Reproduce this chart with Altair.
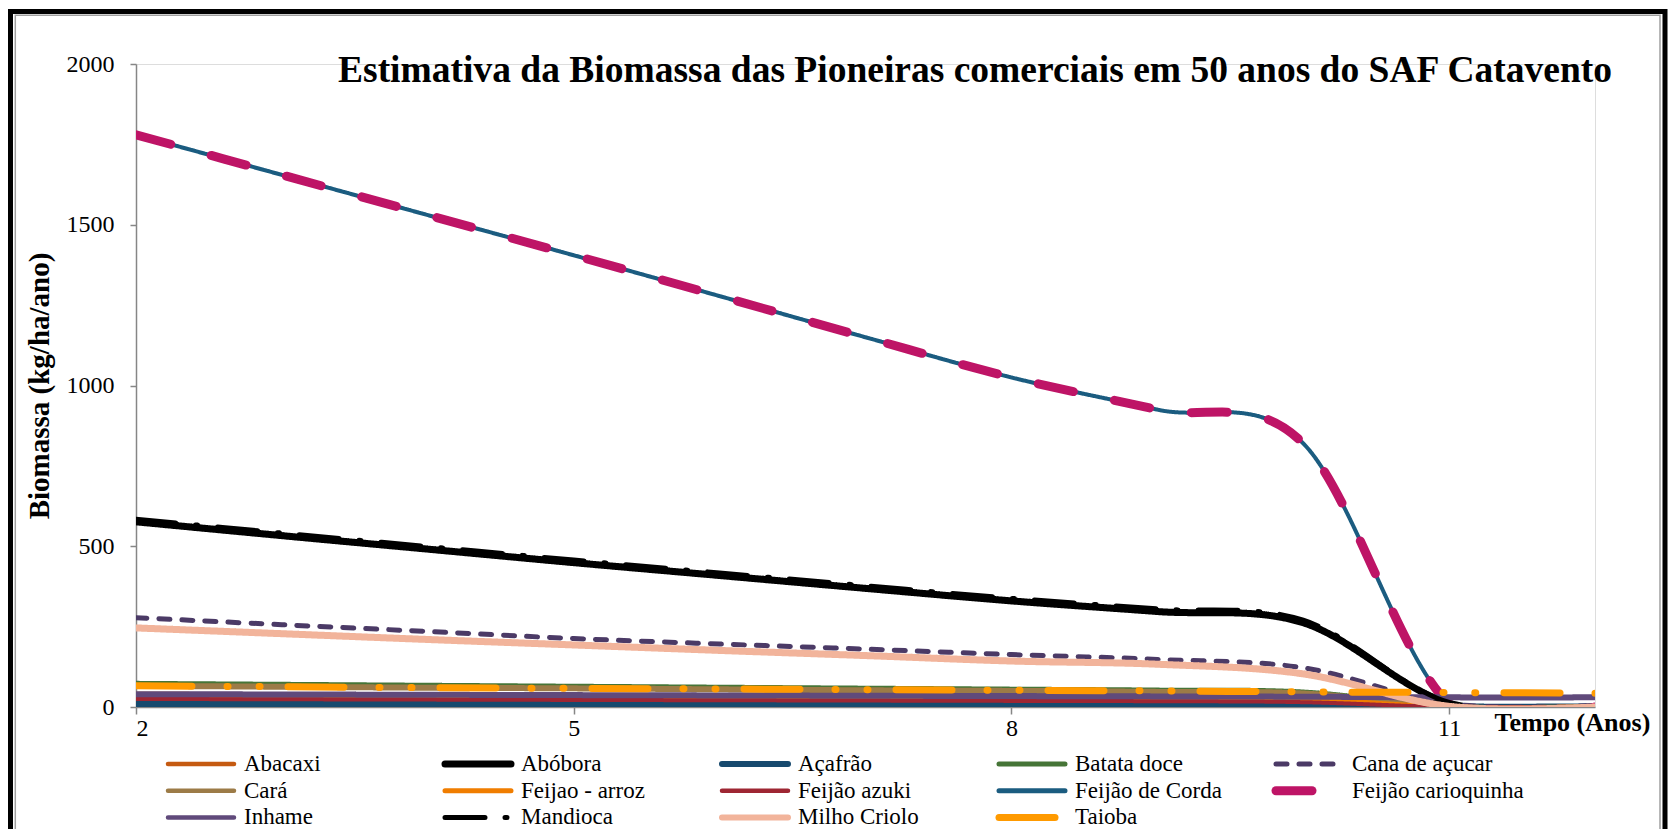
import altair as alt
import pandas as pd

years = [2, 3, 4, 5, 6, 7, 8, 9, 10, 11, 12]

series = ["Abacaxi", "Abóbora", "Açafrão", "Batata doce", "Cana de açucar",
          "Cará", "Feijao - arroz", "Feijão azuki", "Feijão de Corda",
          "Feijão carioquinha", "Inhame", "Mandioca", "Milho Criolo", "Taioba"]

abacaxi = [30, 28, 27, 25, 24, 22, 21, 19, 15, 0, 0]
abobora = [576, 533, 491, 449, 409, 369, 330, 297, 262, 12, 0]
acafrao = [10, 10, 10, 9, 9, 9, 8, 8, 6, 0, 0]
batata_doce = [72, 69, 66, 63, 60, 57, 54, 51, 45, 0, 0]
cana = [278, 256, 235, 213, 196, 180, 163, 148, 122, 10, 5]
cara = [66, 63, 60, 58, 55, 52, 50, 47, 42, 0, 0]
feijao_arroz = [40, 38, 36, 34, 32, 30, 28, 27, 24, 0, 0]
feijao_azuki = [25, 24, 23, 22, 21, 20, 19, 18, 15, 0, 0]
feijao_corda = [1780, 1655, 1530, 1405, 1278, 1150, 1025, 925, 820, 10, 0]
feijao_carioquinha = [1780, 1655, 1530, 1405, 1278, 1150, 1025, 925, 820, 10, 0]
inhame = [40, 39, 38, 37, 36, 35, 34, 33, 32, 30, 30]
mandioca = [584, 541, 499, 457, 417, 377, 338, 305, 270, 14, 0]
milho = [246, 228, 210, 193, 176, 160, 143, 133, 103, 2, 0]
taioba = [66, 63, 60, 58, 56, 54, 52, 50, 47, 45, 43]

all_values = [abacaxi, abobora, acafrao, batata_doce, cana, cara, feijao_arroz,
              feijao_azuki, feijao_corda, feijao_carioquinha, inhame, mandioca,
              milho, taioba]

colors = ["#C55A11", "#000000", "#174A6E", "#467537", "#4B3A66",
          "#9C7B47", "#F07D00", "#9E2633", "#1B5C80",
          "#BE1466", "#604A7B", "#000000", "#F2B49B", "#FF9A00"]
dashes = [[1, 0], [1, 0], [1, 0], [1, 0], [11, 12],
          [1, 0], [1, 0], [1, 0], [1, 0],
          [36, 42], [1, 0], [40, 20, 2, 20], [1, 0], [56, 35, 1, 31, 1, 28]]
widths = [5, 7, 7, 6, 5, 6, 5, 4, 4, 9, 6, 5, 7, 7]
legend_widths = [4.5, 7, 6, 5, 5, 4.5, 5, 4.5, 5, 9, 4.5, 5, 6, 7]

rows = []
for name, vals, w in zip(series, all_values, widths):
    for yr, v in zip(years, vals):
        rows.append({"serie": name, "ano": yr, "biomassa": v, "largura": w})
df = pd.DataFrame(rows)

leg_df = pd.DataFrame({"serie": series, "idx": list(range(len(series))),
                       "largura": legend_widths})

FONT = "Liberation Serif"
TITLE = "Estimativa da Biomassa das Pioneiras comerciais em 50 anos do SAF Catavento"

color_scale = alt.Scale(domain=series, range=colors)
dash_scale = alt.Scale(domain=series, range=dashes)

lines = alt.Chart(df).mark_line(interpolate="cardinal", strokeCap="round",
                                strokeJoin="round", clip=True).encode(
    x=alt.X("ano:Q", scale=alt.Scale(domain=[2, 12], nice=False, zero=False),
            axis=alt.Axis(values=[2, 5, 8, 11], title="Tempo (Anos)", grid=False,
                          format="d",
                          labelFont=FONT, labelFontSize=24, labelColor="black",
                          labelPadding=2, tickSize=7, tickColor="#868686",
                          domainColor="#868686", domainWidth=1.5, tickWidth=1.5,
                          titleFont=FONT, titleFontSize=26, titleFontWeight="bold",
                          titleColor="black", titleAlign="left", titleX=1358,
                          titleY=15, titleBaseline="middle", titleAnchor="start")),
    y=alt.Y("biomassa:Q", scale=alt.Scale(domain=[0, 2000], nice=False),
            axis=alt.Axis(values=[0, 500, 1000, 1500, 2000], format="d",
                          title="Biomassa (kg/ha/ano)", grid=False,
                          labelFont=FONT, labelFontSize=24, labelColor="black",
                          labelPadding=16, tickSize=6, tickColor="#868686",
                          domainColor="#868686", domainWidth=1.5, tickWidth=1.5,
                          titleFont=FONT, titleFontSize=29, titleFontWeight="bold",
                          titleColor="black", titlePadding=12)),
    color=alt.Color("serie:N", scale=color_scale, sort=series, legend=None),
    strokeDash=alt.StrokeDash("serie:N", scale=dash_scale, sort=series, legend=None),
    strokeWidth=alt.StrokeWidth("largura:Q", scale=None, legend=None),
)

# legend drawn as a grid of entries (5 columns x 3 rows) below the plot
legend_base = alt.Chart(leg_df).transform_calculate(
    col="datum.idx % 5",
    row="floor(datum.idx / 5)",
).transform_calculate(
    lx="32 + datum.col * 277",
    lx2="98 + datum.col * 277",
    tx="108 + datum.col * 277",
    ly="700 + datum.row * 26.7",
)
legend_lines = legend_base.mark_rule(strokeCap="round").encode(
    x=alt.X("lx:Q", scale=None), x2="lx2:Q",
    y=alt.Y("ly:Q", scale=None),
    color=alt.Color("serie:N", scale=color_scale, sort=series, legend=None),
    strokeDash=alt.StrokeDash("serie:N", scale=dash_scale, sort=series, legend=None),
    strokeWidth=alt.StrokeWidth("largura:Q", scale=None, legend=None),
)
legend_text = legend_base.mark_text(font=FONT, fontSize=23, color="black",
                                    align="left", baseline="middle").encode(
    x=alt.X("tx:Q", scale=None), y=alt.Y("ly:Q", scale=None), text="serie:N")

frame_df = pd.DataFrame({"k": [0]})
outer = alt.Chart(frame_df).mark_rect(fillOpacity=0, stroke="black", strokeWidth=5).encode(
    x=alt.value(-125.5), x2=alt.value(1529), y=alt.value(-52.5), y2=alt.value(820))
inner = alt.Chart(frame_df).mark_rect(fillOpacity=0, stroke="#A0A0A0", strokeWidth=1.5).encode(
    x=alt.value(-120.7), x2=alt.value(1524), y=alt.value(-48.7), y2=alt.value(820))
title = alt.Chart(frame_df).mark_text(font=FONT, fontSize=37.5, fontWeight="bold",
                                      color="black", align="center",
                                      baseline="middle").encode(
    x=alt.value(839), y=alt.value(7), text=alt.value(TITLE))

chart = alt.layer(lines, legend_lines, legend_text, outer, inner, title).properties(
    width=1459, height=643,
    padding={"left": 128, "top": 56, "right": 74, "bottom": 122},
    autosize=alt.AutoSizeParams(type="none"),
).configure_view(stroke=None).configure(background="white")

chart.save("out.html", embed_options={"renderer": "svg", "actions": False})
